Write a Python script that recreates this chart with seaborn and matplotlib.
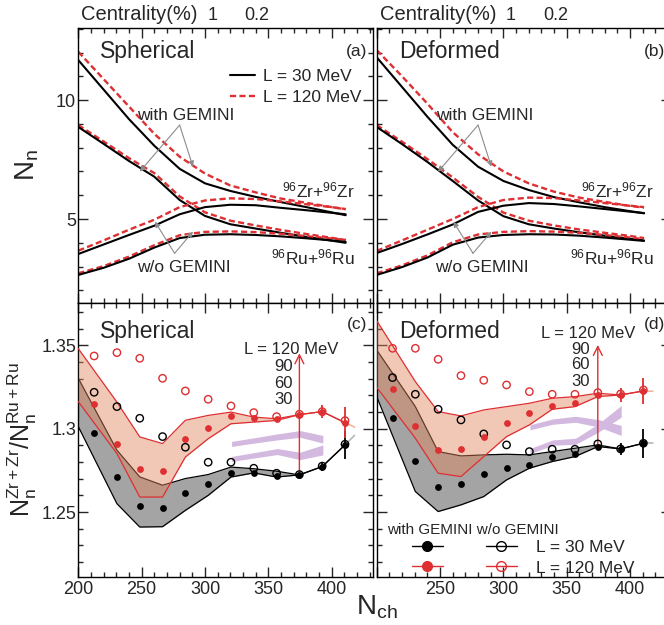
import matplotlib
matplotlib.use("Agg")
import matplotlib.pyplot as plt
import seaborn as sns
from matplotlib.lines import Line2D
from matplotlib.ticker import MultipleLocator, FixedLocator, FuncFormatter

sns.set_style("ticks")
plt.rcParams["font.family"] = ["Liberation Sans", "DejaVu Sans"]
plt.rcParams["mathtext.fontset"] = "custom"
plt.rcParams["mathtext.rm"] = "Liberation Sans"
plt.rcParams["mathtext.it"] = "Liberation Sans:italic"
plt.rcParams["mathtext.default"] = "regular"

RED = "#de2f32"
GREY_ARROW = "#8c8c8c"

# ---------------- upper panels: neutron multiplicity vs N_ch ----------------
nch_curve = [200, 220, 240, 260, 280, 300, 320, 340, 360, 380, 400, 411]

sph_zr_with_l30 = [11.68, 10.44, 9.20, 8.08, 7.11, 6.50, 6.18, 5.93, 5.71, 5.50, 5.28, 5.16]
sph_zr_with_l120 = [12.03, 10.88, 9.73, 8.58, 7.62, 6.91, 6.41, 6.12, 5.86, 5.68, 5.50, 5.41]
sph_ru_with_l30 = [8.87, 8.16, 7.44, 6.78, 5.80, 5.13, 4.78, 4.60, 4.42, 4.25, 4.09, 4.00]
sph_ru_with_l120 = [8.95, 8.26, 7.56, 6.93, 5.95, 5.28, 4.93, 4.73, 4.54, 4.37, 4.21, 4.12]
sph_zr_wo_l30 = [3.53, 3.93, 4.33, 4.72, 5.20, 5.50, 5.60, 5.58, 5.47, 5.37, 5.26, 5.20]
sph_zr_wo_l120 = [3.67, 4.10, 4.55, 4.97, 5.50, 5.78, 5.87, 5.84, 5.74, 5.62, 5.50, 5.42]
sph_ru_wo_l30 = [2.65, 2.95, 3.33, 3.80, 4.20, 4.34, 4.36, 4.33, 4.27, 4.19, 4.10, 4.04]
sph_ru_wo_l120 = [2.72, 3.02, 3.42, 3.90, 4.32, 4.46, 4.48, 4.45, 4.38, 4.28, 4.18, 4.12]

def_zr_with_l30 = [11.80, 10.55, 9.30, 8.12, 7.20, 6.60, 6.22, 5.92, 5.70, 5.50, 5.33, 5.24]
def_zr_with_l120 = [12.10, 11.00, 9.85, 8.65, 7.72, 7.00, 6.50, 6.15, 5.90, 5.72, 5.55, 5.48]
def_ru_with_l30 = [8.87, 8.15, 7.40, 6.60, 5.78, 5.12, 4.78, 4.60, 4.44, 4.30, 4.17, 4.10]
def_ru_with_l120 = [8.95, 8.25, 7.52, 6.75, 5.93, 5.27, 4.93, 4.73, 4.56, 4.42, 4.29, 4.20]
def_zr_wo_l30 = [3.57, 3.95, 4.35, 4.77, 5.30, 5.56, 5.67, 5.63, 5.53, 5.42, 5.31, 5.25]
def_zr_wo_l120 = [3.66, 4.10, 4.55, 5.00, 5.50, 5.80, 5.90, 5.88, 5.78, 5.67, 5.56, 5.50]
def_ru_wo_l30 = [2.65, 2.98, 3.38, 3.92, 4.22, 4.33, 4.36, 4.35, 4.30, 4.22, 4.13, 4.08]
def_ru_wo_l120 = [2.72, 3.05, 3.47, 4.02, 4.35, 4.46, 4.49, 4.47, 4.42, 4.33, 4.22, 4.15]

centrality_nch = [306, 341]
centrality_labels = ["1", "0.2"]

# ---------------- lower panels: Zr+Zr / Ru+Ru neutron ratio ----------------
nch_bins = [212.5, 230.5, 248.5, 266.5, 284.5, 302.5, 320.5, 338.5, 356.5, 374.5, 392.5, 410.5]

sph_with_l30 = [1.2977, 1.2712, 1.2537, 1.2526, 1.2617, 1.2669, 1.2733, 1.2733, 1.2718, 1.2723, 1.2773, 1.2903]
sph_wo_l30 = [1.3219, 1.3133, 1.3063, 1.2953, 1.2889, 1.2799, 1.2799, 1.2763, 1.2733, 1.2725, 1.2776, 1.2907]
sph_with_l120 = [1.3149, 1.2909, 1.2759, 1.2745, 1.2937, 1.3007, 1.3077, 1.3063, 1.3057, 1.3083, 1.3103, 1.3037]
sph_wo_l120 = [1.3437, 1.3457, 1.3423, 1.3303, 1.3227, 1.3177, 1.3137, 1.3097, 1.3073, 1.3087, 1.3103, 1.3049]
sph_err_l30 = [0, 0, 0, 0, 0, 0, 0, 0, 0, 0.001, 0.0025, 0.0085]
sph_err_l120 = [0, 0, 0, 0, 0, 0, 0, 0, 0, 0.001, 0.0037, 0.0092]

def_with_l30 = [1.3063, 1.2809, 1.2652, 1.2669, 1.2729, 1.2767, 1.2783, 1.2833, 1.2849, 1.2893, 1.2879, 1.2913]
def_wo_l30 = [1.3307, 1.3207, 1.3117, 1.3053, 1.2969, 1.2903, 1.2863, 1.2877, 1.2877, 1.2909, 1.2879, 1.2913]
def_with_l120 = [1.3237, 1.3017, 1.2873, 1.2877, 1.2949, 1.3033, 1.3097, 1.3139, 1.3157, 1.3203, 1.3203, 1.3227]
def_wo_l120 = [1.3483, 1.3483, 1.3417, 1.3319, 1.3291, 1.3263, 1.3223, 1.3207, 1.3207, 1.3217, 1.3209, 1.3233]
def_err_l30 = [0, 0, 0, 0, 0, 0, 0, 0, 0, 0.001, 0.0035, 0.0086]
def_err_l120 = [0, 0, 0, 0, 0, 0, 0, 0, 0, 0.001, 0.0042, 0.0078]

band_nch = [200, 230.5, 248.5, 266.5, 284.5, 302.5, 320.5, 338.5, 356.5, 374.5, 392.5, 410.5]
sph_red_hi = [1.3481, 1.3160, 1.2951, 1.2911, 1.3051, 1.3080, 1.3100, 1.3070, 1.3060, 1.3085, 1.3103, 1.3037]
sph_red_lo = [1.3163, 1.2851, 1.2590, 1.2590, 1.2830, 1.2940, 1.3030, 1.3040, 1.3050, 1.3085, 1.3103, 1.3037]
sph_grey_hi = [1.3303, 1.2871, 1.2711, 1.2661, 1.2701, 1.2725, 1.2770, 1.2760, 1.2745, 1.2723, 1.2773, 1.2903]
sph_grey_lo = [1.3013, 1.2550, 1.2410, 1.2412, 1.2510, 1.2600, 1.2710, 1.2735, 1.2710, 1.2723, 1.2773, 1.2903]
def_red_hi = [1.3649, 1.3283, 1.3103, 1.3077, 1.3113, 1.3133, 1.3153, 1.3183, 1.3193, 1.3213, 1.3203, 1.3227]
def_red_lo = [1.3249, 1.2943, 1.2733, 1.2713, 1.2833, 1.2953, 1.3023, 1.3117, 1.3133, 1.3193, 1.3203, 1.3227]
def_grey_hi = [1.3473, 1.3133, 1.2863, 1.2837, 1.2843, 1.2847, 1.2843, 1.2863, 1.2883, 1.2903, 1.2879, 1.2913]
def_grey_lo = [1.3193, 1.2623, 1.2503, 1.2543, 1.2593, 1.2693, 1.2763, 1.2803, 1.2833, 1.2893, 1.2879, 1.2913]

tail_nch = [410.5, 418]
sph_red_tail = [1.3037, 1.3010]
sph_grey_tail = [1.2903, 1.2960]
def_red_tail = [1.3227, 1.3225]
def_grey_tail = [1.2913, 1.2915]

lavender_nch = [321, 339, 357, 375, 393]
sph_lav_a = [1.2909, 1.2930, 1.2951, 1.2969, 1.2937]
sph_lav_a_half = [0.0015, 0.0016, 0.0018, 0.0020, 0.0023]
sph_lav_b = [1.2819, 1.2841, 1.2863, 1.2837, 1.2873]
sph_lav_b_half = [0.0015, 0.0016, 0.0018, 0.0022, 0.0030]
def_lav_a = [1.3009, 1.3043, 1.3057, 1.3033, 1.2990]
def_lav_a_half = [0.0015, 0.0016, 0.0018, 0.0022, 0.0030]
def_lav_b = [1.2866, 1.2917, 1.2925, 1.3005, 1.3105]
def_lav_b_half = [0.0015, 0.0016, 0.0018, 0.0025, 0.0035]

arrow_nch = 374.5
sph_arrow_top = 1.3453
def_arrow_top = 1.3503
l_values = ["90", "60", "30"]

# ---------------- figure layout ----------------
fig = plt.figure(figsize=(6.64, 6.25), dpi=100)
W, H = 664.0, 625.0
xl, xr, pw = 78.3, 376.7, 294.4
ax_a = fig.add_axes([xl / W, 1 - 303 / H, pw / W, 275 / H])
ax_b = fig.add_axes([xr / W, 1 - 303 / H, pw / W, 275 / H])
ax_c = fig.add_axes([xl / W, 1 - 577 / H, pw / W, 274 / H])
ax_d = fig.add_axes([xr / W, 1 - 577 / H, pw / W, 274 / H])

XMAX = 200 + pw / 1.267


def style_axes(ax, top_panel, left_panel):
    for s in ax.spines.values():
        s.set_linewidth(1.0)
        s.set_color("black")
    ax.set_xlim(200, XMAX)
    ax.xaxis.set_major_locator(MultipleLocator(50))
    ax.xaxis.set_minor_locator(MultipleLocator(10))
    if top_panel:
        ax.set_ylim(1.47, 13.03)
        ax.yaxis.set_major_locator(FixedLocator([5, 10]))
        ax.yaxis.set_minor_locator(MultipleLocator(1))
        ax.yaxis.set_major_formatter(FuncFormatter(lambda v, p: f"{v:g}"))
    else:
        ax.set_ylim(1.2110, 1.3755)
        ax.yaxis.set_major_locator(FixedLocator([1.25, 1.30, 1.35]))
        ax.yaxis.set_minor_locator(MultipleLocator(0.01))
        ax.yaxis.set_major_formatter(FuncFormatter(lambda v, p: f"{v:g}"))
    ax.tick_params(which="both", direction="in", top=True, right=True,
                   width=1.0, labelsize=13, pad=3)
    ax.tick_params(axis="y", pad=1.5)
    ax.tick_params(which="major", length=7)
    ax.tick_params(which="minor", length=3.5)
    if top_panel:
        ax.tick_params(axis="x", labelbottom=False)
    elif not left_panel:
        ax.xaxis.set_major_formatter(FuncFormatter(lambda v, p: "" if v < 240 else f"{v:g}"))
    if not left_panel:
        ax.tick_params(axis="y", labelleft=False)


def draw_curves(ax, pairs):
    for solid, dashed in pairs:
        sns.lineplot(x=nch_curve, y=dashed, ax=ax, color=RED, linewidth=1.7,
                     linestyle=(0, (2.6, 1.4)), estimator=None, sort=False)
        sns.lineplot(x=nch_curve, y=solid, ax=ax, color="black", linewidth=1.5,
                     estimator=None, sort=False)


def gray_arrows(ax, start, ends):
    for end in ends:
        ax.annotate("", xy=end, xytext=start,
                    arrowprops=dict(arrowstyle="-|>", color=GREY_ARROW, lw=0.8,
                                    mutation_scale=8, shrinkA=0, shrinkB=0))


def top_panel(ax, title, tag, pairs):
    style_axes(ax, True, ax is ax_a)
    draw_curves(ax, pairs)
    ax.text(0.075, 0.913, title, transform=ax.transAxes, fontsize=16.5, va="center", ha="left")
    ax.text(0.98, 0.913, tag, transform=ax.transAxes, fontsize=12.5, va="center", ha="right")
    ax.text(285, 9.37, "with GEMINI", fontsize=12.5, ha="center", va="center")
    gray_arrows(ax, (280, 8.95), [(248.5, 6.99), (290.5, 7.20)])
    ax.text(283, 2.98, "w/o GEMINI", fontsize=12.5, ha="center", va="center")
    gray_arrows(ax, (276, 3.56), [(260.5, 4.89), (290.5, 4.47)])
    ax.text(0.94, 0.41, r"$^{96}$Zr+$^{96}$Zr", transform=ax.transAxes,
            fontsize=12.5, ha="right", va="center")
    ax.text(0.94, 0.167, r"$^{96}$Ru+$^{96}$Ru", transform=ax.transAxes,
            fontsize=12.5, ha="right", va="center")
    sec = ax.secondary_xaxis("top")
    sec.set_xticks(centrality_nch)
    sec.set_xticklabels(centrality_labels)
    sec.tick_params(direction="in", length=0, labelsize=13, pad=3)
    sec.spines["top"].set_visible(False)
    ax.text(0.01, 1.048, "Centrality(%)", transform=ax.transAxes, fontsize=14.5,
            ha="left", va="center")


top_panel(ax_a, "Spherical", "(a)",
          [(sph_zr_with_l30, sph_zr_with_l120), (sph_ru_with_l30, sph_ru_with_l120),
           (sph_zr_wo_l30, sph_zr_wo_l120), (sph_ru_wo_l30, sph_ru_wo_l120)])
top_panel(ax_b, "Deformed", "(b)",
          [(def_zr_with_l30, def_zr_with_l120), (def_ru_with_l30, def_ru_with_l120),
           (def_zr_wo_l30, def_zr_wo_l120), (def_ru_wo_l30, def_ru_wo_l120)])

ax_a.set_ylabel(r"$N_n$", fontsize=20)
ax_a.yaxis.set_label_coords(-0.128, 0.5)

leg_handles = [Line2D([], [], color="black", lw=1.5),
               Line2D([], [], color=RED, lw=1.7, linestyle=(0, (2.6, 1.4)))]
ax_a.legend(leg_handles, ["L = 30 MeV", "L = 120 MeV"], loc="upper left",
            bbox_to_anchor=(0.515, 0.852), frameon=False, fontsize=12.5,
            handlelength=1.45, handletextpad=0.45, labelspacing=0.35,
            borderpad=0, borderaxespad=0)


def bottom_panel(ax, title, tag, d):
    style_axes(ax, False, ax is ax_c)
    # theory bands
    ax.fill_between(band_nch, d["grey_lo"], d["grey_hi"], color="#a4a4a4", lw=0, zorder=1)
    for arr in (d["grey_lo"], d["grey_hi"]):
        sns.lineplot(x=band_nch, y=arr, ax=ax, color="black", linewidth=0.9,
                     estimator=None, sort=False, zorder=2)
    ax.fill_between(band_nch, d["red_lo"], d["red_hi"], color="#e2875f", alpha=0.45,
                    lw=0, zorder=3)
    for arr in (d["red_lo"], d["red_hi"]):
        sns.lineplot(x=band_nch, y=arr, ax=ax, color=RED, linewidth=0.9,
                     estimator=None, sort=False, zorder=4)
    sns.lineplot(x=tail_nch, y=d["red_tail"], ax=ax, color="#f2b49a", linewidth=1.2,
                 estimator=None, sort=False, zorder=2)
    sns.lineplot(x=tail_nch, y=d["grey_tail"], ax=ax, color="#b8b8b8", linewidth=1.2,
                 estimator=None, sort=False, zorder=2)
    # lavender bands
    for c, h in ((d["lav_a"], d["lav_a_half"]), (d["lav_b"], d["lav_b_half"])):
        lo = [v - e for v, e in zip(c, h)]
        hi = [v + e for v, e in zip(c, h)]
        ax.fill_between(lavender_nch, lo, hi, color="#d3b8df", lw=0, zorder=3)
    # L arrow
    base = d["with_l30"][nch_bins.index(arrow_nch)]
    ax.annotate("", xy=(arrow_nch, d["arrow_top"]), xytext=(arrow_nch, base),
                arrowprops=dict(arrowstyle="->", color=RED, lw=1.0, mutation_scale=16,
                                shrinkA=0, shrinkB=0), zorder=5)
    # points
    ax.errorbar(nch_bins, d["with_l30"], yerr=d["err_l30"], fmt="none", ecolor="black",
                elinewidth=1.3, zorder=6)
    ax.errorbar(nch_bins, d["with_l120"], yerr=d["err_l120"], fmt="none", ecolor=RED,
                elinewidth=1.3, zorder=6)
    sns.scatterplot(x=nch_bins, y=d["wo_l120"], ax=ax, marker="o", s=28,
                    facecolors="none", edgecolor=RED, linewidth=1.0, zorder=7)
    sns.scatterplot(x=nch_bins, y=d["wo_l30"], ax=ax, marker="o", s=28,
                    facecolors="none", edgecolor="black", linewidth=1.0, zorder=7)
    sns.scatterplot(x=nch_bins, y=d["with_l120"], ax=ax, marker="o", s=24,
                    color=RED, edgecolor=RED, linewidth=0, zorder=8)
    sns.scatterplot(x=nch_bins, y=d["with_l30"], ax=ax, marker="o", s=24,
                    color="black", edgecolor="black", linewidth=0, zorder=8)
    ax.text(0.075, 0.895, title, transform=ax.transAxes, fontsize=16.5, va="center", ha="left")
    ax.text(0.98, 0.92, tag, transform=ax.transAxes, fontsize=12.5, va="center", ha="right")
    ax.text(d["ltext_x"], d["ltext_y"][0], "L = 120 MeV", fontsize=12, ha="center",
            va="center", zorder=9)
    for lab, yv in zip(l_values, d["ltext_y"][1:]):
        ax.text(d["lnum_x"], yv, lab, fontsize=12, ha="right", va="center", zorder=9)


bottom_panel(ax_c, "Spherical", "(c)", dict(
    grey_lo=sph_grey_lo, grey_hi=sph_grey_hi, red_lo=sph_red_lo, red_hi=sph_red_hi,
    red_tail=sph_red_tail, grey_tail=sph_grey_tail,
    lav_a=sph_lav_a, lav_a_half=sph_lav_a_half, lav_b=sph_lav_b, lav_b_half=sph_lav_b_half,
    with_l30=sph_with_l30, wo_l30=sph_wo_l30, with_l120=sph_with_l120, wo_l120=sph_wo_l120,
    err_l30=sph_err_l30, err_l120=sph_err_l120, arrow_top=sph_arrow_top,
    ltext_x=368, ltext_y=[1.3477, 1.3373, 1.3273, 1.3173], lnum_x=369.5))
bottom_panel(ax_d, "Deformed", "(d)", dict(
    grey_lo=def_grey_lo, grey_hi=def_grey_hi, red_lo=def_red_lo, red_hi=def_red_hi,
    red_tail=def_red_tail, grey_tail=def_grey_tail,
    lav_a=def_lav_a, lav_a_half=def_lav_a_half, lav_b=def_lav_b, lav_b_half=def_lav_b_half,
    with_l30=def_with_l30, wo_l30=def_wo_l30, with_l120=def_with_l120, wo_l120=def_wo_l120,
    err_l30=def_err_l30, err_l120=def_err_l120, arrow_top=def_arrow_top,
    ltext_x=367, ltext_y=[1.3573, 1.3477, 1.3383, 1.3283], lnum_x=368.4))

ax_c.set_ylabel(r"$N_n^{Zr+Zr}/N_n^{Ru+Ru}$", fontsize=18)
ax_c.yaxis.set_label_coords(-0.132, 0.5)

# marker legend in panel (d)
ax_d.text(0.035, 0.172, "with GEMINI w/o GEMINI", transform=ax_d.transAxes,
          fontsize=11, ha="left", va="center")
mk_handles = [
    Line2D([], [], color="black", marker="o", ms=7, lw=1.0),
    Line2D([], [], color=RED, marker="o", ms=7, lw=1.0),
    Line2D([], [], color="black", marker="o", ms=7, mfc="none", lw=1.0),
    Line2D([], [], color=RED, marker="o", ms=7, mfc="none", lw=1.0),
]
ax_d.legend(mk_handles, ["", "", "L = 30 MeV", "L = 120 MeV"], ncol=2,
            loc="upper left", bbox_to_anchor=(0.119, 0.135), frameon=False,
            fontsize=12.5, handlelength=1.8, handletextpad=1.1, columnspacing=1.37,
            labelspacing=0.3, borderpad=0, borderaxespad=0, numpoints=1)

fig.text(376.5 / W, 1 - 607 / H, r"$N_{ch}$", fontsize=20, ha="center", va="center")

fig.savefig("out.png", dpi=100)
